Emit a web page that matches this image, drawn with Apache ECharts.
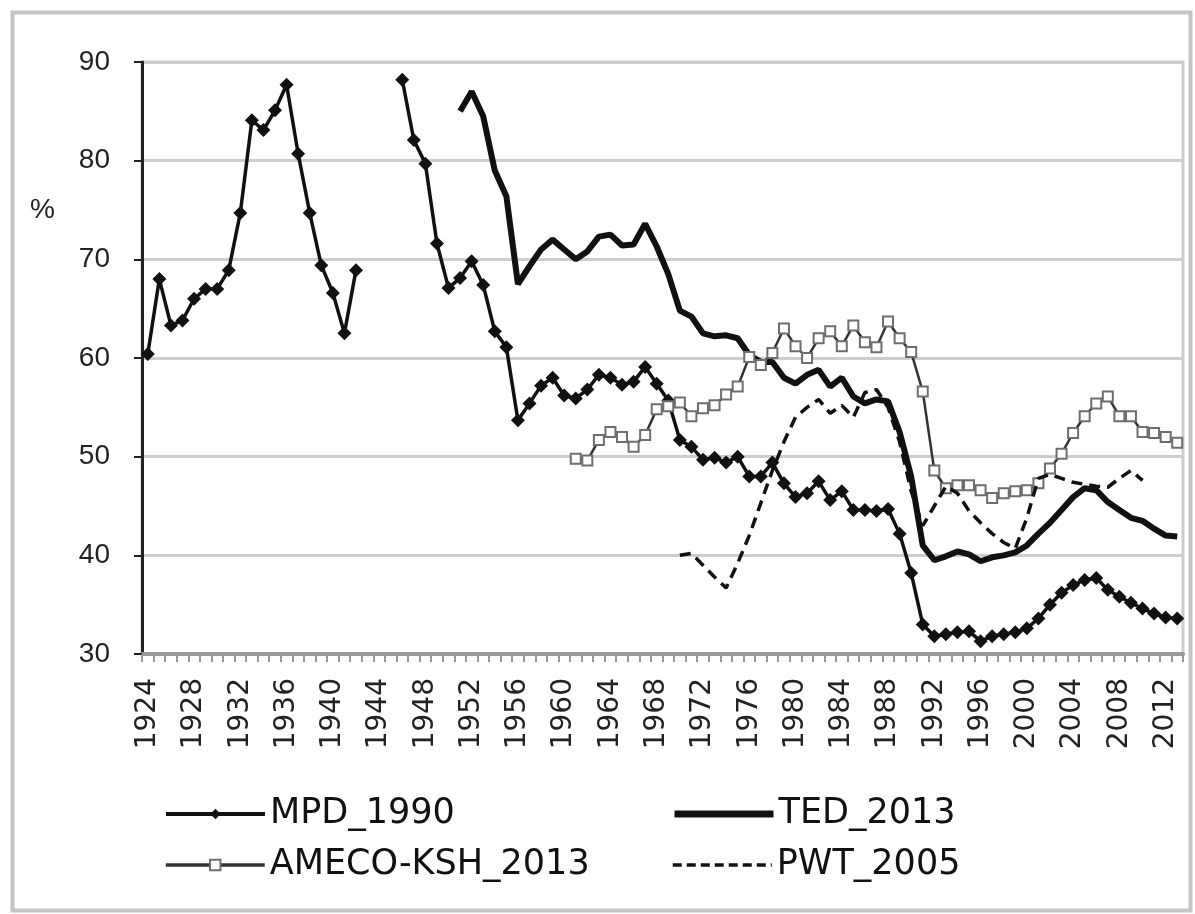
<!DOCTYPE html>
<html>
<head>
<meta charset="utf-8">
<script src="https://cdn.jsdelivr.net/npm/echarts@6/dist/echarts.min.js"></script>
<style>
html,body{margin:0;padding:0;background:#fff;}
#chart{width:1195px;height:914px;}
</style>
</head>
<body>
<div id="chart"></div>
<script>
const years = [1924,1925,1926,1927,1928,1929,1930,1931,1932,1933,1934,1935,1936,1937,1938,1939,
1940,1941,1942,1943,1944,1945,1946,1947,1948,1949,1950,1951,1952,1953,1954,1955,1956,1957,1958,1959,
1960,1961,1962,1963,1964,1965,1966,1967,1968,1969,1970,1971,1972,1973,1974,1975,1976,1977,1978,1979,
1980,1981,1982,1983,1984,1985,1986,1987,1988,1989,1990,1991,1992,1993,1994,1995,1996,1997,1998,1999,
2000,2001,2002,2003,2004,2005,2006,2007,2008,2009,2010,2011,2012,2013];

const yTicks = [30,40,50,60,70,80,90];

// MPD_1990: 1924-2013 (gap 1943-1945)
const mpdStart = 1924;
const mpd = [60.4,68.0,63.3,63.8,66.0,67.0,67.0,68.9,74.7,84.1,83.1,85.1,87.7,80.7,74.7,69.4,
66.6,62.5,68.9,null,null,null,88.2,82.1,79.7,71.6,67.1,68.1,69.8,67.4,62.7,61.1,53.7,55.4,57.2,58.0,
56.2,55.9,56.8,58.3,58.0,57.3,57.6,59.1,57.4,55.7,51.7,51.0,49.7,49.9,49.4,50.0,48.0,48.0,49.4,47.3,
45.9,46.3,47.5,45.6,46.5,44.6,44.6,44.5,44.7,42.2,38.2,33.0,31.8,32.0,32.2,32.3,31.3,31.8,32.0,32.2,
32.6,33.6,35.0,36.2,37.0,37.5,37.7,36.5,35.8,35.2,34.6,34.1,33.7,33.6];

// TED_2013: 1951-2013
const tedStart = 1951;
const ted = [85.0,87.0,84.5,79.0,76.4,67.5,69.3,71.0,72.0,
71.0,70.0,70.8,72.3,72.5,71.4,71.5,73.6,71.3,68.5,64.8,64.2,62.5,62.2,62.3,62.0,60.3,59.6,59.6,58.0,
57.4,58.3,58.8,57.1,58.0,56.1,55.4,55.8,55.6,52.5,48.0,41.0,39.5,39.9,40.4,40.1,39.4,39.8,40.0,40.3,
41.0,42.2,43.3,44.6,45.9,46.8,46.6,45.4,44.6,43.8,43.5,42.7,42.0,41.9];

// AMECO-KSH_2013: 1961-2013
const amecoStart = 1961;
const ameco = [49.8,49.6,51.7,52.5,52.0,51.0,52.2,54.8,55.1,55.5,54.1,54.9,55.2,56.3,57.1,60.1,59.3,60.5,63.0,
61.2,60.0,62.0,62.7,61.2,63.3,61.6,61.1,63.7,62.0,60.6,56.6,48.6,46.8,47.1,47.1,46.6,45.8,46.3,46.5,
46.6,47.3,48.8,50.3,52.4,54.1,55.4,56.1,54.1,54.1,52.5,52.4,52.0,51.4];

// PWT_2005: 1970-2010
const pwtStart = 1970;
const pwt = [40.0,40.2,39.0,37.8,36.7,39.2,42.0,45.3,48.6,51.5,
54.0,55.0,55.8,54.4,55.2,54.0,56.5,56.8,55.0,51.5,46.5,43.0,45.0,47.0,46.3,44.5,43.3,42.2,41.3,40.7,
43.8,47.8,48.2,47.8,47.4,47.2,47.0,46.9,47.8,48.6,47.6];

function align(start, vals) {
  const out = years.map(() => null);
  const off = years.indexOf(start);
  vals.forEach((v, i) => { out[off + i] = v; });
  return out;
}

const chart = echarts.init(document.getElementById('chart'), null, {renderer: 'canvas'});

const legendText = {fontFamily: 'DejaVu Sans', fontSize: 35, color: '#111', lineHeight: 36};
function mkLegend(name, left, top, lineStyle, hideSymbol) {
  const item = {name: name};
  if (hideSymbol) item.itemStyle = {opacity: 0};
  return {
    data: [item], left: left, top: top, padding: 0, itemWidth: 99, itemHeight: 13,
    textStyle: legendText, selectedMode: false, lineStyle: lineStyle
  };
}

chart.setOption({
  animation: false,
  backgroundColor: '#fff',
  grid: {left: 142, right: 12, top: 62, bottom: 260, show: true, borderColor: '#cdcdcd', borderWidth: 3, backgroundColor: 'transparent'},
  xAxis: {
    type: 'category', data: years, boundaryGap: true,
    axisLine: {lineStyle: {color: '#9a9a9a', width: 4}},
    axisTick: {show: true, interval: 0, length: 8, lineStyle: {color: '#9a9a9a', width: 2}},
    axisLabel: {interval: 3, rotate: 90, margin: 24, fontFamily: 'DejaVu Sans', fontSize: 28, color: '#222'},
    splitLine: {show: false}
  },
  yAxis: {
    type: 'value', min: 30, max: 90, interval: 10,
    axisLine: {show: true, lineStyle: {color: '#222', width: 3}},
    axisTick: {show: true, length: 8, lineStyle: {color: '#222', width: 2}},
    axisLabel: {margin: 32, fontFamily: 'Liberation Sans', fontSize: 28, color: '#222',
      formatter: v => yTicks.includes(v) ? String(v) : ''},
    splitLine: {lineStyle: {color: '#cdcdcd', width: 3}}
  },
  legend: [
    mkLegend('MPD_1990', 164, 796, {width: 4}, false),
    mkLegend('TED_2013', 671, 796, {width: 7}, true),
    mkLegend('AMECO-KSH_2013', 164, 847, {width: 3.5}, false),
    mkLegend('PWT_2005', 671, 847, {width: 3.5, type: [9, 5]}, true)
  ],
  graphic: [
    {type: 'rect', left: 10, top: 10, shape: {width: 1178, height: 898},
     style: {fill: 'none', stroke: '#c4c4c4', lineWidth: 4}, silent: true},
    {type: 'text', left: 30, top: 196, style: {text: '%', font: '28px "Liberation Sans"', fill: '#222'}}
  ],
  series: [
    {name: 'MPD_1990', type: 'line', data: align(mpdStart, mpd), connectNulls: false,
     symbol: 'diamond', symbolSize: 14, showAllSymbol: true,
     lineStyle: {color: '#111', width: 3.5}, itemStyle: {color: '#111'}, z: 3},
    {name: 'TED_2013', type: 'line', data: align(tedStart, ted),
     symbol: 'none', lineStyle: {color: '#111', width: 6}, itemStyle: {color: '#111'}, z: 2},
    {name: 'AMECO-KSH_2013', type: 'line', data: align(amecoStart, ameco),
     symbol: 'rect', symbolSize: 10, showAllSymbol: true,
     lineStyle: {color: '#333', width: 2.5},
     itemStyle: {color: '#fff', borderColor: '#6e6e6e', borderWidth: 2}, z: 4},
    {name: 'PWT_2005', type: 'line', data: align(pwtStart, pwt),
     symbol: 'none', lineStyle: {color: '#111', width: 3.5, type: [11, 7]}, itemStyle: {color: '#111'}, z: 5}
  ]
});
</script>
</body>
</html>
